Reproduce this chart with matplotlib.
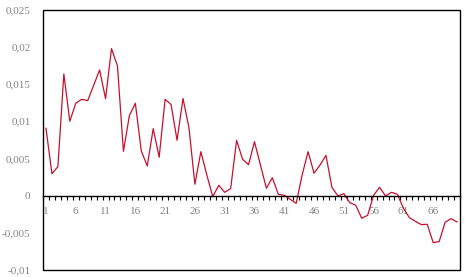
import matplotlib
matplotlib.use("Agg")
import matplotlib.pyplot as plt
from matplotlib.patches import Rectangle
from matplotlib.ticker import FixedLocator, FuncFormatter

periods = list(range(1, 71))
values = [
    0.00904, 0.00294, 0.00388, 0.01634, 0.00998, 0.01240, 0.01294, 0.01275, 0.01480, 0.01688,
    0.01302, 0.01974, 0.01741, 0.00595, 0.01074, 0.01240, 0.00599, 0.00398, 0.00899, 0.00515,
    0.01294, 0.01222, 0.00743, 0.01305, 0.00912, 0.00152, 0.00590, 0.00277, -0.00015, 0.00138,
    0.00044, 0.00093, 0.00743, 0.00488, 0.00415, 0.00724, 0.00411, 0.00098, 0.00240, 0.00017,
    0.00004, -0.00050, -0.00104, 0.00277, 0.00590, 0.00300, 0.00410, 0.00540, 0.00111, -0.00005,
    0.00026, -0.00095, -0.00130, -0.00305, -0.00265, 0.00004, 0.00111, -0.00005, 0.00044, 0.00017,
    -0.00170, -0.00297, -0.00345, -0.00390, -0.00386, -0.00632, -0.00619, -0.00359, -0.00310, -0.00355,
]
x_labels = [1, 6, 11, 16, 21, 26, 31, 36, 41, 46, 51, 56, 61, 66]
y_ticks = [-0.01, -0.005, 0, 0.005, 0.01, 0.015, 0.02, 0.025]

W, H = 468, 277
fig = plt.figure(figsize=(W / 100, H / 100), dpi=100)
ax = fig.add_axes([43 / W, 7 / H, 417 / W, 260.5 / H])

ax.plot(periods, values, color="#C8102E", lw=0.9)

ax.set_xlim(0.5, len(periods) + 0.5)
ax.set_ylim(-0.01, 0.025)

for s in ["top", "right", "left"]:
    ax.spines[s].set_visible(False)
ax.spines["bottom"].set_position(("data", 0))
ax.spines["bottom"].set_linewidth(1.0)
ax.add_patch(Rectangle((0, 0), 1, 1, transform=ax.transAxes, fill=False,
                       lw=1.0, edgecolor="black", clip_on=False))

# tick marks at category boundaries, labels at category centers
ax.xaxis.set_major_locator(FixedLocator([p + 0.5 for p in [0] + periods]))
ax.xaxis.set_major_formatter(FuncFormatter(lambda v, p: ""))
ax.xaxis.set_minor_locator(FixedLocator(x_labels))
ax.xaxis.set_minor_formatter(FuncFormatter(lambda v, p: f"{int(round(v))}"))
ax.tick_params(axis="x", which="major", direction="out", length=3, width=0.8, color="black")
ax.tick_params(axis="x", which="minor", length=0, pad=8, labelsize=8, labelcolor="#858585")

ax.set_yticks(y_ticks)
def yfmt(v, p):
    if abs(v) < 1e-12:
        return "0"
    s = f"{v:.3f}".rstrip("0")
    return s.replace(".", ",")
ax.yaxis.set_major_formatter(FuncFormatter(yfmt))
ax.tick_params(axis="y", length=0, pad=9, labelsize=8, labelcolor="#858585")

for lbl in ax.get_xticklabels(minor=True) + ax.get_yticklabels():
    lbl.set_fontfamily("Liberation Serif")

fig.savefig("out.png", dpi=100)
